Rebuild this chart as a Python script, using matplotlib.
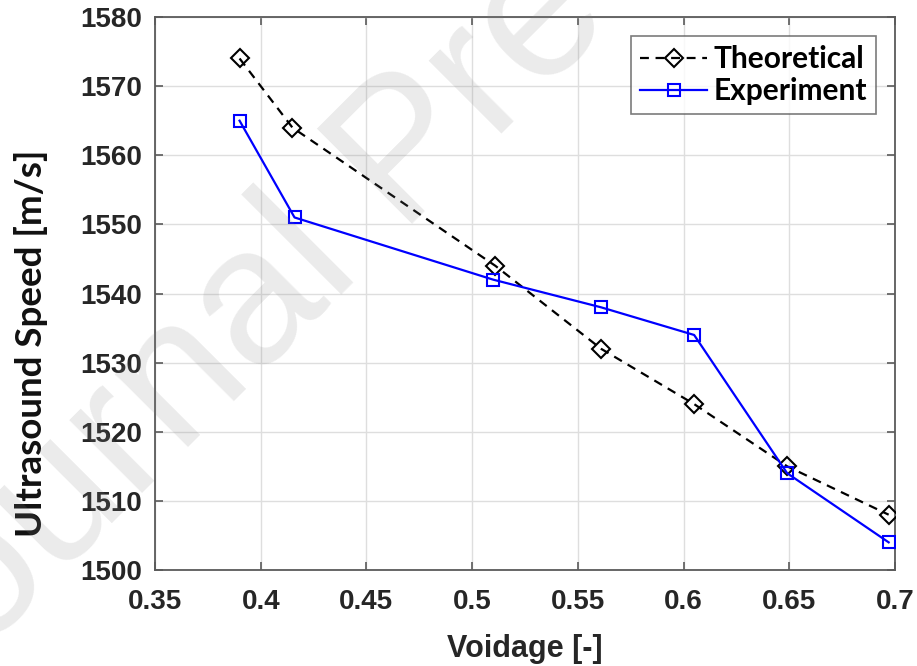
import matplotlib
matplotlib.use("Agg")
import matplotlib.pyplot as plt

# Voidage vs. ultrasound speed
voidage_theory = [0.390, 0.415, 0.511, 0.561, 0.605, 0.649, 0.697]
speed_theory = [1574, 1564, 1544, 1532, 1524, 1515, 1508]

voidage_exp = [0.390, 0.416, 0.510, 0.561, 0.605, 0.649, 0.697]
speed_exp = [1565, 1551, 1542, 1538, 1534, 1514, 1504]

x_ticks = [0.35, 0.4, 0.45, 0.5, 0.55, 0.6, 0.65, 0.7]
x_tick_labels = ["0.35", "0.4", "0.45", "0.5", "0.55", "0.6", "0.65", "0.7"]
y_ticks = [1500, 1510, 1520, 1530, 1540, 1550, 1560, 1570, 1580]

plt.rcParams["font.family"] = ["Liberation Sans", "DejaVu Sans"]
humanist = ["Lato", "DejaVu Sans"]

fig = plt.figure(figsize=(9.17, 6.66), dpi=100)
ax = fig.add_axes([155 / 917, 1 - 570 / 666, 740 / 917, 553 / 666])

ax.plot(voidage_theory, speed_theory, color="black", linestyle=(0, (4, 3)),
        linewidth=1.6, marker="D", markersize=9, markerfacecolor="none",
        markeredgecolor="black", markeredgewidth=1.5, label="Theoretical",
        zorder=3)
ax.plot(voidage_exp, speed_exp, color="#0000ff", linestyle="-",
        linewidth=1.6, marker="s", markersize=9, markerfacecolor="none",
        markeredgecolor="#0000ff", markeredgewidth=1.5, label="Experiment",
        zorder=3)

ax.set_xlim(0.35, 0.7)
ax.set_ylim(1500, 1580)
ax.set_xticks(x_ticks)
ax.set_xticklabels(x_tick_labels)
ax.set_yticks(y_ticks)

ax.grid(True, color="#dedede", linewidth=1.0)
ax.set_axisbelow(True)
for s in ax.spines.values():
    s.set_color("#5a5a5a")
    s.set_linewidth(1.3)

ax.tick_params(axis="both", direction="in", length=6, width=1.2,
               color="#5a5a5a", top=True, right=True, labelsize=20,
               labelcolor="#262626")
ax.tick_params(axis="x", pad=14)
ax.tick_params(axis="y", pad=9)
for lbl in ax.get_xticklabels() + ax.get_yticklabels():
    lbl.set_fontweight("bold")

ax.set_xlabel("Voidage [-]", fontsize=22, fontweight="bold", color="#262626",
              labelpad=13)
ax.set_ylabel("Ultrasound Speed [m/s]", family=humanist, fontsize=26.5,
              fontweight="bold", color="#111111")
ax.yaxis.set_label_coords(-0.145, 0.41)

leg = ax.legend(loc="upper right", frameon=True, fancybox=False,
                edgecolor="#5a5a5a", handlelength=2.25, handletextpad=0.2,
                borderpad=0.3, labelspacing=0.12, borderaxespad=0.65,
                prop={"family": humanist, "weight": "bold", "size": 21.5})
leg.get_frame().set_linewidth(1.2)

# Faint diagonal watermark
fig.text(0.444, 0.764, "Journal Pre-proof", fontsize=140, color="#808080",
         alpha=0.16, rotation=45, ha="center", va="center", zorder=1)

fig.savefig("out.png", dpi=100)
